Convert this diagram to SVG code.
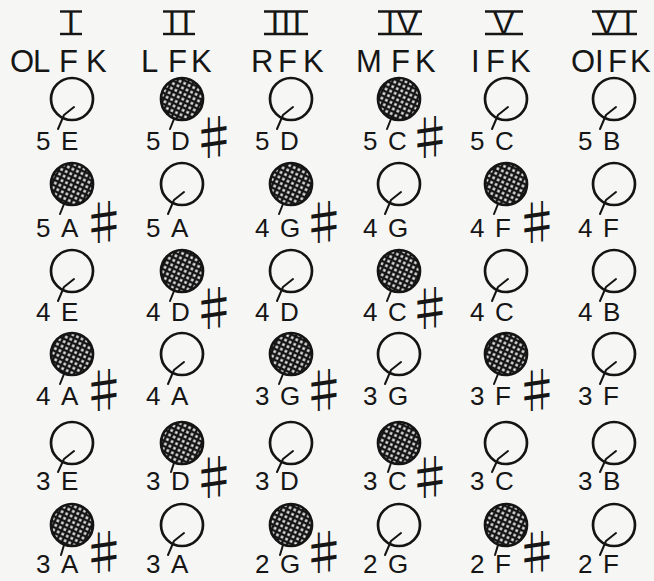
<svg xmlns="http://www.w3.org/2000/svg" width="654" height="581" viewBox="0 0 654 581">
<defs>
<pattern id="hatch" width="5" height="5" patternUnits="userSpaceOnUse" patternTransform="rotate(25)">
<rect width="5" height="5" fill="#151515"/>
<rect x="1.3" y="1.3" width="2.5" height="2.5" fill="#f2f2f2"/>
</pattern>
<style>
.o{fill:none;stroke:#141414;stroke-width:2.7}
.f{fill:url(#hatch);stroke:#141414;stroke-width:2.7}
.t{fill:none;stroke:#141414;stroke-width:2;stroke-linecap:round;stroke-linejoin:round}
.lb{font-family:"Liberation Sans",Arial,sans-serif;font-size:26px;fill:#161616}
.sh{font-family:"Noto Sans CJK JP","DejaVu Sans",sans-serif;font-size:48px;fill:#161616;text-anchor:middle}
.hd{font-family:"Liberation Sans",Arial,sans-serif;font-size:31px;fill:#161616}
.rn{font-family:"Liberation Sans",Arial,sans-serif;font-size:32px;fill:#161616}
.bar{stroke:#161616;stroke-width:2.4}
</style>
</defs>
<rect width="654" height="581" fill="#f6f6f5"/>

<g id="headers">
<g id="h1"><line class="bar" x1="60" y1="11.5" x2="82" y2="11.5"/><line class="bar" x1="60" y1="34" x2="82" y2="34"/><text class="rn" y="34"><tspan x="66.5">I</tspan></text>
<text class="hd" y="72"><tspan x="10">O</tspan><tspan x="33">L</tspan><tspan x="59">F</tspan><tspan x="86">K</tspan></text></g>
<g id="h2"><line class="bar" x1="163" y1="11.5" x2="195" y2="11.5"/><line class="bar" x1="163" y1="34" x2="195" y2="34"/><text class="rn" y="34"><tspan x="167.5">I</tspan><tspan x="181.5">I</tspan></text>
<text class="hd" y="72"><tspan x="141">L</tspan><tspan x="168">F</tspan><tspan x="191">K</tspan></text></g>
<g id="h3"><line class="bar" x1="264" y1="11.5" x2="308" y2="11.5"/><line class="bar" x1="264" y1="34" x2="308" y2="34"/><text class="rn" y="34"><tspan x="270.5">I</tspan><tspan x="281.5">I</tspan><tspan x="292.5">I</tspan></text>
<text class="hd" y="72"><tspan x="251">R</tspan><tspan x="278">F</tspan><tspan x="303">K</tspan></text></g>
<g id="h4"><line class="bar" x1="378" y1="11.5" x2="422" y2="11.5"/><line class="bar" x1="378" y1="34" x2="422" y2="34"/><text class="rn" y="34"><tspan x="385.5">I</tspan><tspan x="397">V</tspan></text>
<text class="hd" y="72"><tspan x="356">M</tspan><tspan x="391">F</tspan><tspan x="415">K</tspan></text></g>
<g id="h5"><line class="bar" x1="485" y1="11.5" x2="523" y2="11.5"/><line class="bar" x1="485" y1="34" x2="523" y2="34"/><text class="rn" y="34"><tspan x="493">V</tspan></text>
<text class="hd" y="72"><tspan x="471">I</tspan><tspan x="486">F</tspan><tspan x="510">K</tspan></text></g>
<g id="h6"><line class="bar" x1="592" y1="11.5" x2="637" y2="11.5"/><line class="bar" x1="592" y1="34" x2="637" y2="34"/><text class="rn" y="34"><tspan x="596">V</tspan><tspan x="623.5">I</tspan></text>
<text class="hd" y="72"><tspan x="571">O</tspan><tspan x="595">I</tspan><tspan x="608">F</tspan><tspan x="630">K</tspan></text></g>
</g>

<g id="connectors"></g>

<g id="nodes">
<!-- row 1: cy 99, baseline 150 -->
<g id="n-5E"><circle class="o" cx="72" cy="99" r="21"/><path class="t" d="M74 107L64 115L58 129"/><text class="lb" y="150"><tspan x="36">5</tspan><tspan x="61">E</tspan></text></g>
<g id="n-5Ds"><circle class="f" cx="182" cy="99" r="21"/><path class="t" d="M174 119L170 129"/><text class="lb" y="150"><tspan x="146">5</tspan><tspan x="171">D</tspan></text><text class="sh" x="214" y="155">♯</text></g>
<g id="n-5D"><circle class="o" cx="291" cy="99" r="21"/><path class="t" d="M293 107L283 115L277 129"/><text class="lb" y="150"><tspan x="255">5</tspan><tspan x="280">D</tspan></text></g>
<g id="n-5Cs"><circle class="f" cx="399" cy="99" r="21"/><path class="t" d="M391 119L387 129"/><text class="lb" y="150"><tspan x="363">5</tspan><tspan x="388">C</tspan></text><text class="sh" x="430" y="155">♯</text></g>
<g id="n-5C"><circle class="o" cx="506" cy="99" r="21"/><path class="t" d="M508 107L498 115L492 129"/><text class="lb" y="150"><tspan x="470">5</tspan><tspan x="495">C</tspan></text></g>
<g id="n-5B"><circle class="o" cx="614" cy="99" r="21"/><path class="t" d="M616 107L606 115L600 129"/><text class="lb" y="150"><tspan x="578">5</tspan><tspan x="603">B</tspan></text></g>
<!-- row 2: cy 184, baseline 237 -->
<g id="n-5As"><circle class="f" cx="72" cy="184" r="21"/><path class="t" d="M64 204L60 214"/><text class="lb" y="237"><tspan x="36">5</tspan><tspan x="61">A</tspan></text><text class="sh" x="104" y="240">♯</text></g>
<g id="n-5A"><circle class="o" cx="182" cy="184" r="21"/><path class="t" d="M184 192L174 200L168 214"/><text class="lb" y="237"><tspan x="146">5</tspan><tspan x="171">A</tspan></text></g>
<g id="n-4Gs"><circle class="f" cx="291" cy="184" r="21"/><path class="t" d="M283 204L279 214"/><text class="lb" y="237"><tspan x="255">4</tspan><tspan x="280">G</tspan></text><text class="sh" x="324" y="240">♯</text></g>
<g id="n-4G"><circle class="o" cx="399" cy="184" r="21"/><path class="t" d="M401 192L391 200L385 214"/><text class="lb" y="237"><tspan x="363">4</tspan><tspan x="388">G</tspan></text></g>
<g id="n-4Fs"><circle class="f" cx="506" cy="184" r="21"/><path class="t" d="M498 204L494 214"/><text class="lb" y="237"><tspan x="470">4</tspan><tspan x="495">F</tspan></text><text class="sh" x="537" y="240">♯</text></g>
<g id="n-4F"><circle class="o" cx="614" cy="184" r="21"/><path class="t" d="M616 192L606 200L600 214"/><text class="lb" y="237"><tspan x="578">4</tspan><tspan x="603">F</tspan></text></g>
<!-- row 3: cy 271, baseline 321 -->
<g id="n-4E"><circle class="o" cx="72" cy="271" r="21"/><path class="t" d="M74 279L64 287L58 301"/><text class="lb" y="321"><tspan x="36">4</tspan><tspan x="61">E</tspan></text></g>
<g id="n-4Ds"><circle class="f" cx="182" cy="271" r="21"/><path class="t" d="M174 291L170 301"/><text class="lb" y="321"><tspan x="146">4</tspan><tspan x="171">D</tspan></text><text class="sh" x="214" y="326">♯</text></g>
<g id="n-4D"><circle class="o" cx="291" cy="271" r="21"/><path class="t" d="M293 279L283 287L277 301"/><text class="lb" y="321"><tspan x="255">4</tspan><tspan x="280">D</tspan></text></g>
<g id="n-4Cs"><circle class="f" cx="399" cy="271" r="21"/><path class="t" d="M391 291L387 301"/><text class="lb" y="321"><tspan x="363">4</tspan><tspan x="388">C</tspan></text><text class="sh" x="430" y="326">♯</text></g>
<g id="n-4C"><circle class="o" cx="506" cy="271" r="21"/><path class="t" d="M508 279L498 287L492 301"/><text class="lb" y="321"><tspan x="470">4</tspan><tspan x="495">C</tspan></text></g>
<g id="n-4B"><circle class="o" cx="614" cy="271" r="21"/><path class="t" d="M616 279L606 287L600 301"/><text class="lb" y="321"><tspan x="578">4</tspan><tspan x="603">B</tspan></text></g>
<!-- row 4: cy 354, baseline 405 -->
<g id="n-4As"><circle class="f" cx="72" cy="354" r="21"/><path class="t" d="M64 374L60 384"/><text class="lb" y="405"><tspan x="36">4</tspan><tspan x="61">A</tspan></text><text class="sh" x="104" y="408">♯</text></g>
<g id="n-4A"><circle class="o" cx="182" cy="354" r="21"/><path class="t" d="M184 362L174 370L168 384"/><text class="lb" y="405"><tspan x="146">4</tspan><tspan x="171">A</tspan></text></g>
<g id="n-3Gs"><circle class="f" cx="291" cy="354" r="21"/><path class="t" d="M283 374L279 384"/><text class="lb" y="405"><tspan x="255">3</tspan><tspan x="280">G</tspan></text><text class="sh" x="324" y="408">♯</text></g>
<g id="n-3G"><circle class="o" cx="399" cy="354" r="21"/><path class="t" d="M401 362L391 370L385 384"/><text class="lb" y="405"><tspan x="363">3</tspan><tspan x="388">G</tspan></text></g>
<g id="n-3Fs"><circle class="f" cx="506" cy="354" r="21"/><path class="t" d="M498 374L494 384"/><text class="lb" y="405"><tspan x="470">3</tspan><tspan x="495">F</tspan></text><text class="sh" x="537" y="408">♯</text></g>
<g id="n-3F"><circle class="o" cx="614" cy="354" r="21"/><path class="t" d="M616 362L606 370L600 384"/><text class="lb" y="405"><tspan x="578">3</tspan><tspan x="603">F</tspan></text></g>
<!-- row 5: cy 443, baseline 490 -->
<g id="n-3E"><circle class="o" cx="72" cy="443" r="21"/><path class="t" d="M74 451L64 459L58 472"/><text class="lb" y="490"><tspan x="36">3</tspan><tspan x="61">E</tspan></text></g>
<g id="n-3Ds"><circle class="f" cx="182" cy="443" r="21"/><path class="t" d="M174 463L171 472"/><text class="lb" y="490"><tspan x="146">3</tspan><tspan x="171">D</tspan></text><text class="sh" x="214" y="495">♯</text></g>
<g id="n-3D"><circle class="o" cx="291" cy="443" r="21"/><path class="t" d="M293 451L283 459L277 472"/><text class="lb" y="490"><tspan x="255">3</tspan><tspan x="280">D</tspan></text></g>
<g id="n-3Cs"><circle class="f" cx="399" cy="443" r="21"/><path class="t" d="M391 463L388 472"/><text class="lb" y="490"><tspan x="363">3</tspan><tspan x="388">C</tspan></text><text class="sh" x="430" y="495">♯</text></g>
<g id="n-3C"><circle class="o" cx="506" cy="443" r="21"/><path class="t" d="M508 451L498 459L492 472"/><text class="lb" y="490"><tspan x="470">3</tspan><tspan x="495">C</tspan></text></g>
<g id="n-3B"><circle class="o" cx="614" cy="443" r="21"/><path class="t" d="M616 451L606 459L600 472"/><text class="lb" y="490"><tspan x="578">3</tspan><tspan x="603">B</tspan></text></g>
<!-- row 6: cy 525, baseline 573 -->
<g id="n-3As"><circle class="f" cx="72" cy="525" r="21"/><path class="t" d="M64 545L61 555"/><text class="lb" y="573"><tspan x="36">3</tspan><tspan x="61">A</tspan></text><text class="sh" x="104" y="570">♯</text></g>
<g id="n-3A"><circle class="o" cx="182" cy="525" r="21"/><path class="t" d="M184 533L174 541L168 555"/><text class="lb" y="573"><tspan x="146">3</tspan><tspan x="171">A</tspan></text></g>
<g id="n-2Gs"><circle class="f" cx="291" cy="525" r="21"/><path class="t" d="M283 545L280 555"/><text class="lb" y="573"><tspan x="255">2</tspan><tspan x="280">G</tspan></text><text class="sh" x="324" y="570">♯</text></g>
<g id="n-2G"><circle class="o" cx="399" cy="525" r="21"/><path class="t" d="M401 533L391 541L385 555"/><text class="lb" y="573"><tspan x="363">2</tspan><tspan x="388">G</tspan></text></g>
<g id="n-2Fs"><circle class="f" cx="506" cy="525" r="21"/><path class="t" d="M498 545L495 555"/><text class="lb" y="573"><tspan x="470">2</tspan><tspan x="495">F</tspan></text><text class="sh" x="537" y="570">♯</text></g>
<g id="n-2F"><circle class="o" cx="614" cy="525" r="21"/><path class="t" d="M616 533L606 541L600 555"/><text class="lb" y="573"><tspan x="578">2</tspan><tspan x="603">F</tspan></text></g>
</g>
</svg>
